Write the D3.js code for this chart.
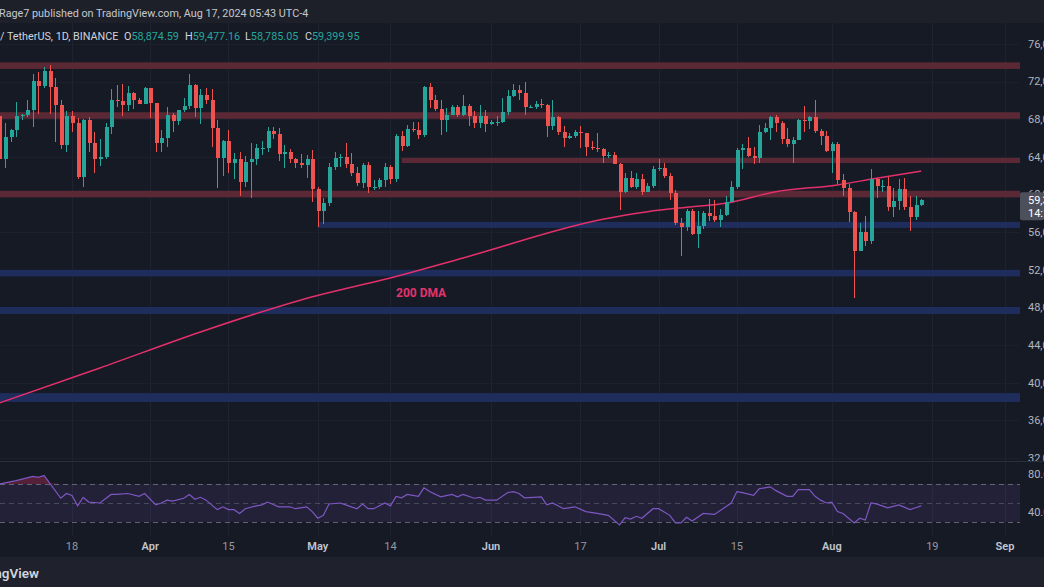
<!DOCTYPE html>
<html>
<head>
<meta charset="utf-8">
<script src="https://cdn.jsdelivr.net/npm/d3@7"></script>
<style>
  body { margin: 0; background: #161a25; overflow: hidden; }
  svg { display: block; font-family: Roboto, "Noto Sans", sans-serif; }
</style>
</head>
<body>
<script>
// daily BTC/USDT candles (thousands of USDT), first candle 2024-03-05
var firstDay = "2024-03-05";
var opens = [
  68.3,63.8,66.1,66.9,68.3,68.5,69.0,72.1,71.5,73.1,71.4,69.5,65.3,68.4,67.6,61.9,67.9,65.5,63.8,64.0,67.2,70.0,69.9,69.5,70.8,70.0,69.6,
  71.3,69.7,65.5,66.0,68.5,67.8,69.0,69.4,71.6,69.2,70.6,70.0,67.1,63.9,65.7,63.4,63.8,61.3,63.5,63.8,64.9,64.9,66.8,66.4,64.3,64.5,63.8,63.4,63.1,63.8,
  60.6,58.3,59.1,62.9,63.9,64.0,63.2,62.3,61.2,63.1,60.8,60.8,61.5,62.9,61.6,66.2,65.2,67.0,66.9,66.3,71.4,70.1,69.1,67.9,68.5,69.3,68.5,69.4,68.3,67.6,68.3,
  67.5,67.7,67.7,68.8,70.5,71.1,70.8,69.3,69.3,69.6,69.5,67.3,68.2,66.7,66.0,66.2,66.6,66.5,65.1,64.9,64.8,64.1,64.2,63.2,60.3,61.8,60.8,61.6,60.3,60.9,
  62.7,62.8,62.0,60.2,57.0,56.6,58.2,55.8,56.7,58.0,57.7,57.3,57.8,59.2,60.8,64.7,65.0,64.1,63.9,66.7,67.1,68.2,67.6,65.9,65.4,65.8,67.9,67.8,68.2,66.8,66.2,
  64.6,65.4,61.5,60.7,58.1,54.0,56.0,55.1,61.7,60.9,60.9,58.7,59.3,60.6,58.7,57.6,58.87459
];
var highs = [
  69.0,67.6,67.0,69.8,68.6,70.0,72.8,73.0,73.6,73.8,72.4,70.0,68.9,68.9,68.1,68.0,68.2,66.6,65.9,67.6,71.2,71.6,71.7,71.5,70.9,70.3,71.4,
  71.3,69.7,66.9,69.3,68.7,69.0,70.3,72.8,71.8,71.2,71.3,71.2,67.9,65.8,66.9,64.4,64.5,64.1,65.5,65.4,65.7,67.2,67.2,67.1,65.3,64.8,63.9,64.3,64.2,64.7,
  60.8,59.6,63.3,64.5,64.3,65.5,64.4,62.9,63.4,63.5,61.5,61.8,63.4,63.1,66.4,66.8,67.4,67.7,67.7,71.5,71.9,70.6,70.0,69.2,69.5,69.5,70.6,69.6,68.9,69.5,69.0,
  67.9,68.4,70.3,71.1,71.8,71.6,72.0,69.5,69.9,70.2,69.6,70.0,68.4,67.3,66.5,66.9,67.3,66.5,65.7,66.5,65.0,64.5,64.5,63.4,62.3,62.5,62.3,62.2,61.2,63.0,
  63.8,63.3,62.3,60.5,57.5,58.5,58.5,58.2,58.3,59.5,59.4,58.5,59.8,61.4,64.9,65.4,66.1,65.1,67.4,67.6,68.4,68.5,67.8,67.1,66.1,68.0,69.4,68.3,70.0,67.0,66.8,
  65.6,65.6,62.2,61.1,58.3,57.0,57.7,62.7,61.8,61.5,61.9,60.7,61.6,61.8,59.8,59.8,59.47716
];
var lows = [
  59.0,62.8,65.6,66.1,67.9,68.2,67.2,68.6,71.3,68.6,65.6,64.8,64.5,66.6,61.6,60.8,64.5,62.3,63.0,63.8,66.4,69.3,68.4,68.9,69.1,69.6,69.6,
  68.1,64.5,64.5,65.1,66.6,67.4,68.8,69.1,68.2,67.5,69.6,65.1,60.7,62.0,62.3,61.6,59.8,60.8,59.6,63.1,64.2,64.5,65.9,63.6,62.8,63.3,62.8,62.8,61.8,59.2,
  56.6,56.9,58.8,62.6,62.9,62.8,62.0,60.9,60.7,60.2,60.5,60.6,60.8,61.1,61.3,64.6,65.1,66.6,65.9,66.1,69.2,68.9,66.3,66.6,68.5,68.2,68.3,67.3,67.1,67.1,66.6,
  67.4,67.3,67.6,68.5,70.4,70.1,68.5,69.2,69.1,69.2,66.1,66.9,66.3,65.1,65.9,66.0,65.0,64.1,64.7,64.5,63.4,63.9,63.2,58.4,60.2,60.7,60.6,60.0,60.3,60.7,
  62.5,61.8,59.4,56.8,53.5,56.1,55.7,54.3,56.3,57.2,57.1,56.6,57.7,59.2,60.6,62.7,64.0,63.2,63.3,66.5,65.8,66.6,65.4,65.1,63.4,65.8,66.7,67.0,66.5,65.3,64.5,
  62.3,61.1,59.8,57.1,49.0,54.0,54.5,54.7,59.6,60.3,58.3,57.6,58.4,58.4,56.1,57.3,58.78505
];
var closes = [
  63.8,66.1,66.9,68.3,68.5,69.0,72.1,71.5,73.1,71.4,69.5,65.3,68.4,67.6,61.9,67.9,65.5,63.8,64.0,67.2,70.0,69.9,69.5,70.8,70.0,69.6,71.3,
  69.7,65.5,66.0,68.5,67.8,69.0,69.4,71.6,69.2,70.6,70.0,67.1,63.9,65.7,63.4,63.8,61.3,63.5,63.8,64.9,64.9,66.8,66.4,64.3,64.5,63.8,63.4,63.1,63.8,60.6,
  58.3,59.1,62.9,63.9,64.0,63.2,62.3,61.2,63.1,60.8,60.8,61.5,62.9,61.6,66.2,65.2,67.0,66.9,66.3,71.4,70.1,69.1,67.9,68.5,69.3,68.5,69.4,68.3,67.6,68.3,67.5,
  67.7,67.7,68.8,70.5,71.1,70.8,69.3,69.3,69.6,69.5,67.3,68.2,66.7,66.0,66.2,66.6,66.5,65.1,64.9,64.8,64.1,64.2,63.2,60.3,61.8,60.8,61.6,60.3,60.9,62.7,
  62.8,62.0,60.2,57.0,56.6,58.2,55.8,56.7,58.0,57.7,57.3,57.8,59.2,60.8,64.7,65.0,64.1,63.9,66.7,67.1,68.2,67.6,65.9,65.4,65.8,67.9,67.8,68.2,66.8,66.2,64.6,
  65.4,61.5,60.7,58.1,54.0,56.0,55.1,61.7,60.9,60.9,58.7,59.3,60.6,58.7,57.6,58.87,59.39995
];

// 200 day moving average
var dmaDates  = ["2024-03-05","2024-03-23","2024-04-10","2024-04-28","2024-05-16","2024-05-27","2024-06-21","2024-06-29","2024-07-07","2024-07-13","2024-07-22","2024-08-02","2024-08-09","2024-08-17"];
var dmaValues = [37.85, 41.57, 45.4, 48.8, 51.45, 53.26, 57.37, 58.18, 58.7, 59.07, 60.3, 61.02, 61.73, 62.5];

// horizontal zones drawn on the chart (price range, kind, first day or null = from left edge)
var zoneLow   = [73.35, 68.05, 63.35, 59.7, 56.45, 51.3, 47.3, 37.95];
var zoneHigh  = [74.05, 68.75, 63.9, 60.4, 57.1, 52.0, 48.05, 38.9];
var zoneKind  = ["res","res","res","res","sup","sup","sup","sup"];
var zoneStart = [null, null, "2024-05-16", null, "2024-05-01", null, null, null];

// RSI(14)
var rsiDates = ["2024-03-05","2024-03-08","2024-03-11","2024-03-12","2024-03-13","2024-03-14","2024-03-16","2024-03-17","2024-03-18","2024-03-19",
  "2024-03-20","2024-03-21","2024-03-23","2024-03-25","2024-03-26","2024-03-28","2024-03-30","2024-03-31","2024-04-02","2024-04-03",
  "2024-04-04","2024-04-05","2024-04-07","2024-04-08","2024-04-09","2024-04-10","2024-04-11","2024-04-13","2024-04-14","2024-04-15",
  "2024-04-16","2024-04-17","2024-04-18","2024-04-20","2024-04-21","2024-04-22","2024-04-24","2024-04-26","2024-04-27","2024-04-29",
  "2024-04-30","2024-05-01","2024-05-02","2024-05-03","2024-05-05","2024-05-06","2024-05-08","2024-05-09","2024-05-10","2024-05-11",
  "2024-05-13","2024-05-14","2024-05-15","2024-05-16","2024-05-17","2024-05-19","2024-05-20","2024-05-21","2024-05-23","2024-05-25",
  "2024-05-26","2024-05-27","2024-05-29","2024-05-30","2024-05-31","2024-06-02","2024-06-04","2024-06-05","2024-06-06","2024-06-07",
  "2024-06-10","2024-06-11","2024-06-12","2024-06-14","2024-06-16","2024-06-18","2024-06-20","2024-06-22","2024-06-24","2024-06-25",
  "2024-06-26","2024-06-27","2024-06-28","2024-06-30","2024-07-01","2024-07-03","2024-07-04","2024-07-05","2024-07-06","2024-07-07",
  "2024-07-09","2024-07-11","2024-07-14","2024-07-15","2024-07-16","2024-07-18","2024-07-19","2024-07-21","2024-07-22","2024-07-24",
  "2024-07-25","2024-07-26","2024-07-28","2024-07-29","2024-07-30","2024-07-31","2024-08-01","2024-08-02","2024-08-03","2024-08-05",
  "2024-08-06","2024-08-07","2024-08-08","2024-08-09","2024-08-11","2024-08-13","2024-08-15","2024-08-16","2024-08-17"];
var rsiValues = [70,73.5,78,77,79,71,55,60,58,47,
  56,51,50,59,59,60,57,60,48,50,
  53,52,55,59,54,56,53,43,46,43,
  43,39,44,47,48,51,46,46,44,46,
  41,34,37,49,50,48,44,49,44,44,
  50,47,57,55.5,59,57,66,62,56.5,59,
  56.5,59,55,56,53,53,61,62,60,55.5,
  56.5,48,50,44,46,41,39,37,27,34.5,
  33,36,34,44,44,37,29,29,35,31,
  39,38,50,62,61,58,65,67,63,57,
  57,64,64,57,53,50,51,41,39,29,
  34,32,50,49,45,48,43,45,47];

var priceTicks = [32,36,40,44,48,52,56,60,64,68,72,76];
var rsiTicks = [80,40];
var rsiLevels = [70,50,30];
var tickDates  = ["2024-03-18","2024-04-01","2024-04-15","2024-05-01","2024-05-14","2024-06-01","2024-06-17","2024-07-01","2024-07-15","2024-08-01","2024-08-19","2024-09-01"];
var tickLabels = ["18","Apr","15","May","14","Jun","17","Jul","15","Aug","19","Sep"];

var parse = d3.utcParse("%Y-%m-%d");

//page frame
var width = 1044,
    height = 587,
    paneRight = 1020,
    scaleX = 1028,
    priceTop = 23,
    priceBottom = 461,
    rsiBottom = 535,
    axisBottom = 557;

var svg = d3.select("body")
    .append("svg")
    .attr("width", width)
    .attr("height", height);

var x = d3.scaleUtc()
    .domain([parse("2024-03-18"), parse("2024-09-01")])
    .range([72, 1005]);

var y = d3.scaleLinear()
    .domain([32, 76])
    .range([458, 44]);

var yRsi = d3.scaleLinear()
    .domain([30, 70])
    .range([522, 484]);

var days = d3.utcDay.range(parse(firstDay), d3.utcDay.offset(parse(firstDay), closes.length));
var candles = days.map(function(d, i){
    return {date: d, o: opens[i], h: highs[i], l: lows[i], c: closes[i]};
});

var green = "#26a69a", red = "#ef5350";
var fmtPrice = d3.format(",.2f");

//backgrounds
svg.append("rect").attr("width", width).attr("height", height).attr("fill", "#161a25");
svg.append("rect").attr("width", width).attr("height", priceTop).attr("fill", "#1d2029");
svg.append("rect").attr("y", axisBottom).attr("width", width).attr("height", height - axisBottom).attr("fill", "#1f222d");

var defs = svg.append("defs");
defs.append("clipPath").attr("id", "pricePane")
    .append("rect").attr("x", 0).attr("y", priceTop).attr("width", paneRight).attr("height", priceBottom - priceTop);
defs.append("clipPath").attr("id", "priceScale")
    .append("rect").attr("x", 0).attr("y", priceTop).attr("width", width).attr("height", priceBottom - priceTop);
defs.append("clipPath").attr("id", "rsiPane")
    .append("rect").attr("x", 0).attr("y", priceBottom).attr("width", paneRight).attr("height", rsiBottom - priceBottom);

//grid
var grid = svg.append("g").attr("shape-rendering", "crispEdges");
grid.selectAll(".vgrid")
    .data(tickDates)
    .enter()
    .append("line")
    .attr("x1", function(d){ return Math.round(x(parse(d))) + 0.5; })
    .attr("x2", function(d){ return Math.round(x(parse(d))) + 0.5; })
    .attr("y1", priceTop)
    .attr("y2", rsiBottom)
    .attr("stroke", "#1f2331");
grid.selectAll(".hgrid")
    .data(priceTicks)
    .enter()
    .append("line")
    .attr("x1", 0)
    .attr("x2", paneRight)
    .attr("y1", function(d){ return Math.round(y(d)) + 0.5; })
    .attr("y2", function(d){ return Math.round(y(d)) + 0.5; })
    .attr("stroke", "#1c202d");

var price = svg.append("g").attr("clip-path", "url(#pricePane)");

//support / resistance zones
price.selectAll(".zone")
    .data(zoneLow)
    .enter()
    .append("rect")
    .attr("x", function(d, i){ return zoneStart[i] ? x(parse(zoneStart[i])) : 0; })
    .attr("width", function(d, i){ return paneRight - (zoneStart[i] ? x(parse(zoneStart[i])) : 0); })
    .attr("y", function(d, i){ return y(zoneHigh[i]); })
    .attr("height", function(d, i){ return y(zoneLow[i]) - y(zoneHigh[i]); })
    .attr("fill", function(d, i){ return zoneKind[i] == "res" ? "#5b2935" : "#1f2d5c"; });

//200 DMA
var dmaLine = d3.line()
    .x(function(d){ return x(parse(d)); })
    .y(function(d, i){ return y(dmaValues[i]); })
    .curve(d3.curveMonotoneX);
price.append("path")
    .datum(dmaDates)
    .attr("d", dmaLine)
    .attr("fill", "none")
    .attr("stroke", "#e3306b")
    .attr("stroke-width", 1.5);

//candles
var candle = price.selectAll(".candle")
    .data(candles)
    .enter()
    .append("g")
    .attr("shape-rendering", "crispEdges")
    .attr("fill", function(d){ return d.c >= d.o ? green : red; });
candle.append("rect")
    .attr("x", function(d){ return Math.round(x(d.date)); })
    .attr("width", 1)
    .attr("y", function(d){ return y(d.h); })
    .attr("height", function(d){ return y(d.l) - y(d.h); });
candle.append("rect")
    .attr("x", function(d){ return Math.round(x(d.date)) - 1.5; })
    .attr("width", 4)
    .attr("y", function(d){ return y(Math.max(d.o, d.c)); })
    .attr("height", function(d){ return Math.max(1, Math.abs(y(d.o) - y(d.c))); });

svg.append("text")
    .attr("x", x(parse("2024-05-15")))
    .attr("y", y(49.1))
    .attr("fill", "#e3336d")
    .attr("font-size", 12)
    .attr("font-weight", 700)
    .text("200 DMA");

//RSI pane
var rsi = svg.append("g").attr("clip-path", "url(#rsiPane)");
rsi.append("rect")
    .attr("x", 0)
    .attr("width", paneRight)
    .attr("y", yRsi(70))
    .attr("height", yRsi(30) - yRsi(70))
    .attr("fill", "rgba(126,87,194,0.12)");
rsi.selectAll(".level")
    .data(rsiLevels)
    .enter()
    .append("line")
    .attr("x1", 0)
    .attr("x2", paneRight)
    .attr("y1", function(d){ return Math.round(yRsi(d)) + 0.5; })
    .attr("y2", function(d){ return Math.round(yRsi(d)) + 0.5; })
    .attr("stroke", "#787b86")
    .attr("stroke-opacity", function(d){ return d == 50 ? 0.45 : 0.75; })
    .attr("stroke-dasharray", "5,4");

var over = d3.area()
    .x(function(d){ return x(parse(d)); })
    .y0(yRsi(70))
    .y1(function(d, i){ return yRsi(Math.max(70, rsiValues[i])); });
rsi.append("path")
    .datum(rsiDates)
    .attr("d", over)
    .attr("fill", "rgba(200,50,95,0.35)");

var rsiLine = d3.line()
    .x(function(d){ return x(parse(d)); })
    .y(function(d, i){ return yRsi(rsiValues[i]); });
rsi.append("path")
    .datum(rsiDates)
    .attr("d", rsiLine)
    .attr("fill", "none")
    .attr("stroke", "#7e57c2")
    .attr("stroke-width", 1.2);

//pane separator
svg.append("line")
    .attr("x1", 0).attr("x2", width)
    .attr("y1", priceBottom + 0.5).attr("y2", priceBottom + 0.5)
    .attr("stroke", "#2a2e39");

//price scale
var scale = svg.append("g")
    .attr("clip-path", "url(#priceScale)")
    .attr("font-size", 11)
    .attr("fill", "#b2b5be");
scale.selectAll(".ptick")
    .data(priceTicks)
    .enter()
    .append("text")
    .attr("x", scaleX)
    .attr("y", function(d){ return y(d); })
    .attr("dy", "0.35em")
    .text(function(d){ return fmtPrice(d * 1000); });

//last price marker
var last = candles[candles.length - 1];
svg.append("rect")
    .attr("x", paneRight)
    .attr("y", y(last.c) - 8)
    .attr("width", width - paneRight)
    .attr("height", 28)
    .attr("rx", 2)
    .attr("fill", "#4d505b");
svg.append("text")
    .attr("x", scaleX)
    .attr("y", y(last.c))
    .attr("dy", "0.35em")
    .attr("font-size", 11)
    .attr("fill", "#ffffff")
    .text(fmtPrice(last.c * 1000));
svg.append("text")
    .attr("x", scaleX)
    .attr("y", y(last.c) + 13)
    .attr("dy", "0.35em")
    .attr("font-size", 11)
    .attr("fill", "#ffffff")
    .text("14:16:27");

//RSI scale
svg.selectAll(".rtick")
    .data(rsiTicks)
    .enter()
    .append("text")
    .attr("x", scaleX)
    .attr("y", function(d){ return yRsi(d); })
    .attr("dy", "0.35em")
    .attr("font-size", 11)
    .attr("fill", "#b2b5be")
    .text(function(d){ return d3.format(".2f")(d); });

//time scale
svg.selectAll(".xtick")
    .data(tickDates)
    .enter()
    .append("text")
    .attr("x", function(d){ return x(parse(d)); })
    .attr("y", 546)
    .attr("dy", "0.35em")
    .attr("text-anchor", "middle")
    .attr("font-size", 11)
    .attr("font-weight", function(d, i){ return isNaN(+tickLabels[i]) ? 600 : 400; })
    .attr("fill", function(d, i){ return isNaN(+tickLabels[i]) ? "#c3c6ce" : "#9598a1"; })
    .text(function(d, i){ return tickLabels[i]; });

//header lines
svg.append("text")
    .attr("x", -1)
    .attr("y", 13)
    .attr("dy", "0.35em")
    .attr("font-size", 10.8)
    .attr("fill", "#c5c8cf")
    .text("Rage7 published on TradingView.com, Aug 17, 2024 05:43 UTC-4");

svg.append("text")
    .attr("x", 0)
    .attr("y", 36)
    .attr("dy", "0.35em")
    .attr("font-size", 10.8)
    .attr("fill", "#d1d4dc")
    .text("/ TetherUS, 1D, BINANCE");

var legendKeys = ["O", "H", "L", "C"];
var legendVals = [last.o, last.h, last.l, last.c];
var legendX = [124, 185, 245, 305];
var legend = svg.selectAll(".ohlc")
    .data(legendKeys)
    .enter()
    .append("text")
    .attr("x", function(d, i){ return legendX[i]; })
    .attr("y", 36)
    .attr("dy", "0.35em")
    .attr("font-size", 10.8)
    .attr("fill", "#d1d4dc");
legend.append("tspan").text(function(d){ return d; });
legend.append("tspan")
    .attr("fill", green)
    .text(function(d, i){ return fmtPrice(legendVals[i] * 1000); });

//footer logo text
svg.append("text")
    .attr("x", 39)
    .attr("y", 573)
    .attr("dy", "0.35em")
    .attr("text-anchor", "end")
    .attr("font-size", 13.5)
    .attr("font-weight", 600)
    .attr("fill", "#d1d4dc")
    .text("TradingView");
</script>
</body>
</html>
